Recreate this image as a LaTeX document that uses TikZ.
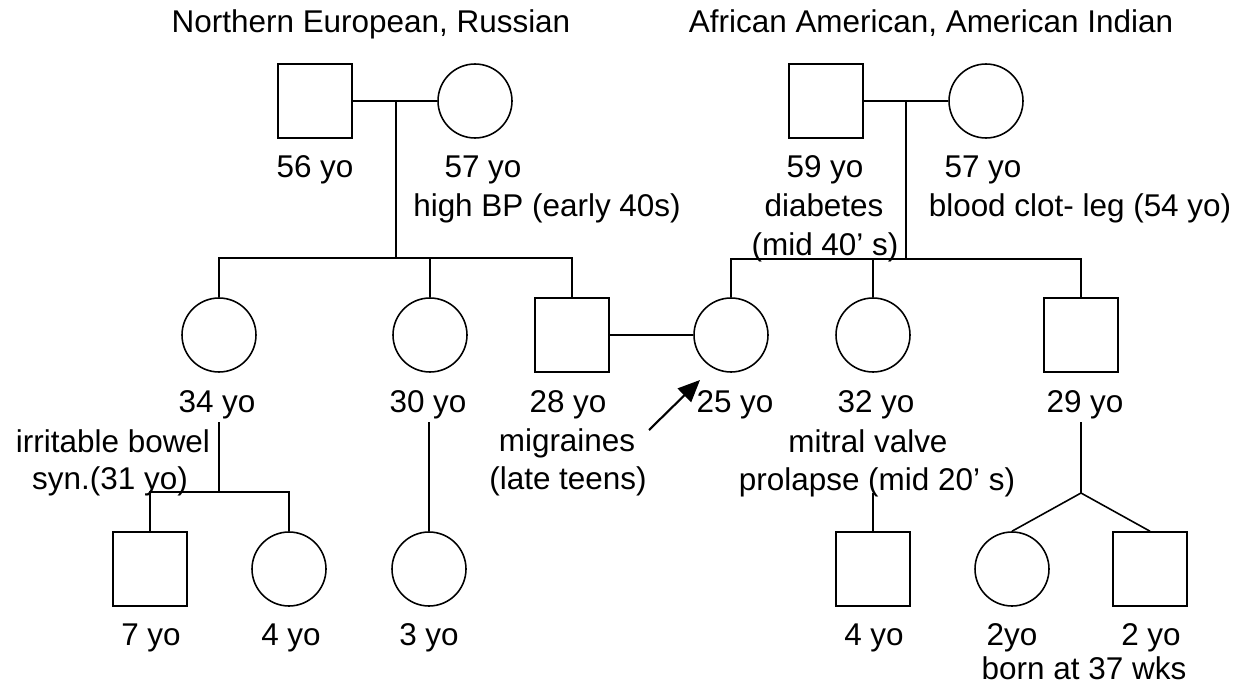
\documentclass[tikz,border=0pt]{standalone}
\usepackage{fontspec}
\setmainfont{Liberation Sans}
\usepackage{tikz}
\usetikzlibrary{arrows.meta}

\begin{document}
\begin{tikzpicture}[x=0.02cm, y=-0.02cm, line width=0.9pt,
    male/.style={draw, rectangle, minimum size=1.48cm, inner sep=0pt},
    female/.style={draw, circle, minimum size=1.48cm, inner sep=0pt},
    lbl/.style={anchor=base, inner sep=0pt, font=\fontsize{17.9}{21.9}\selectfont}]
    \useasboundingbox (0,0) rectangle (1237,686);
    % grandparents
    \node (ethL) [lbl] at (371,33) {Northern European, Russian};
    \node (ethR) [lbl] at (931,33) {African American, American Indian};
    \node (gfL) [male] at (315,101) {};
    \node (gmL) [female] at (475,101) {};
    \node (gfR) [male] at (826,101) {};
    \node (gmR) [female] at (986,101) {};
    \node (lgfL) [lbl] at (315,177) {56 yo};
    \node (lgmL) [lbl] at (483,177) {57 yo};
    \node (lgmLb) [lbl] at (547,216) {high BP (early 40s)};
    \node (lgfR) [lbl] at (825,177) {59 yo};
    \node (lgfRb) [lbl] at (824,216) {diabetes};
    \node (lgfRc) [lbl] at (825,255) {(mid 40’ s)};
    \node (lgmR) [lbl] at (983,177) {57 yo};
    \node (lgmRb) [lbl] at (1080,216) {blood clot- leg (54 yo)};
    % children
    \node (a34) [female] at (219,335) {};
    \node (a30) [female] at (430,335) {};
    \node (a28) [male] at (572,335) {};
    \node (a25) [female] at (731,335) {};
    \node (a32) [female] at (873,335) {};
    \node (a29) [male] at (1081,335) {};
    \node (la34) [lbl] at (217,412) {34 yo};
    \node (la34b) [lbl] at (113,452) {irritable bowel};
    \node (la34c) [lbl] at (110,489) {syn.(31 yo)};
    \node (la30) [lbl] at (428,412) {30 yo};
    \node (la28) [lbl] at (568,412) {28 yo};
    \node (la28b) [lbl] at (567,451) {migraines};
    \node (la28c) [lbl] at (568,489) {(late teens)};
    \node (la25) [lbl] at (735,412) {25 yo};
    \node (la32) [lbl] at (876,412) {32 yo};
    \node (la32b) [lbl] at (868,452) {mitral valve};
    \node (la32c) [lbl] at (877,490) {prolapse (mid 20’ s)};
    \node (la29) [lbl] at (1085,412) {29 yo};
    % grandchildren
    \node (c7) [male] at (150,569) {};
    \node (c4a) [female] at (289,569) {};
    \node (c3) [female] at (429,569) {};
    \node (c4b) [male] at (873,569) {};
    \node (c2a) [female] at (1012,569) {};
    \node (c2b) [male] at (1150,569) {};
    \node (lc7) [lbl] at (151,645) {7 yo};
    \node (lc4a) [lbl] at (291,645) {4 yo};
    \node (lc3) [lbl] at (429,645) {3 yo};
    \node (lc4b) [lbl] at (874,645) {4 yo};
    \node (lc2a) [lbl] at (1012,645) {2yo};
    \node (lc2b) [lbl] at (1151,645) {2 yo};
    \node (lc2bb) [lbl] at (1084,679) {born at 37 wks};
    % line points
    \coordinate (mL) at (396,101);
    \coordinate (sibL) at (396,258);
    \coordinate (mR) at (906,101);
    \coordinate (sibR) at (906,259);
    \coordinate (top34) at (219,422);
    \coordinate (sib34) at (219,492);
    \coordinate (top30) at (429,422);
    \coordinate (top32) at (873,493);
    \coordinate (top29) at (1081,422);
    \coordinate (twin) at (1081,493);
    \coordinate (ptail) at (649,430);
    \coordinate (ptip) at (700,380);
    \draw (gfL) -- (gmL);
    \draw (mL) -- (sibL);
    \draw (sibL) -| (a34.north);
    \draw (sibL) -| (a30.north);
    \draw (sibL) -| (a28.north);
    \draw (gfR) -- (gmR);
    \draw (mR) -- (sibR);
    \draw (sibR) -| (a25.north);
    \draw (sibR) -| (a32.north);
    \draw (sibR) -| (a29.north);
    \draw (a28) -- (a25);
    \draw (top34) -- (sib34);
    \draw (sib34) -| (c7.north);
    \draw (sib34) -| (c4a.north);
    \draw (top30) -- (c3.north);
    \draw (top32) -- (c4b.north);
    \draw (top29) -- (twin);
    \draw (twin) -- (c2a.north);
    \draw (twin) -- (c2b.north);
    \draw[-{Triangle[length=0.44cm, width=0.38cm]}, line width=1.2pt] (ptail) -- (ptip);
\end{tikzpicture}
\end{document}
